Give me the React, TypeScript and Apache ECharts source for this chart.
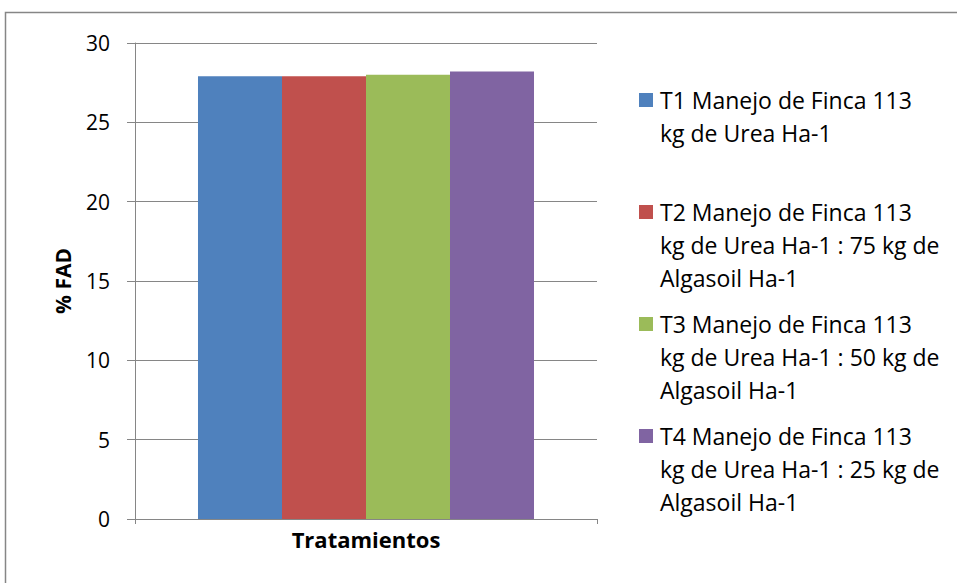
import React, { useEffect, useRef } from "react";
import * as echarts from "echarts";

const categories = [""];
const seriesNames = [
  "T1 Manejo de Finca 113\nkg de Urea Ha-1",
  "T2 Manejo de Finca 113\nkg de Urea Ha-1 : 75 kg de\nAlgasoil Ha-1",
  "T3 Manejo de Finca 113\nkg de Urea Ha-1 : 50 kg de\nAlgasoil Ha-1",
  "T4 Manejo de Finca 113\nkg de Urea Ha-1 : 25 kg de\nAlgasoil Ha-1",
];
const seriesValues = [27.9, 27.9, 28.0, 28.2];
const colors = ["#4F81BD", "#C0504D", "#9BBB59", "#8064A2"];
const yTicks = [0, 5, 10, 15, 20, 25, 30];

const FONT = "'Open Sans'";
const GRAY = "#868686";

export default function App() {
  const ref = useRef<HTMLDivElement>(null);
  useEffect(() => {
    if (!ref.current) return;
    const chart = echarts.init(ref.current, null, { renderer: "svg" });
    const legendGraphics: any[] = [];
    seriesNames.forEach((name, i) => {
      const cy = 100 + 112 * i;
      legendGraphics.push({
        type: "rect",
        shape: { x: 639, y: cy - 7, width: 14, height: 14 },
        style: { fill: colors[i] },
      });
      legendGraphics.push({
        type: "text",
        x: 660,
        y: cy - 16.5,
        style: {
          text: name,
          font: `23px ${FONT}`,
          fill: "#000",
          lineHeight: 33,
          verticalAlign: "top",
          align: "left",
        },
      });
    });
    chart.setOption({
      animation: false,
      textStyle: { fontFamily: FONT },
      grid: { left: 135, top: 43, width: 462, height: 476, containLabel: false },
      xAxis: {
        type: "category",
        data: categories,
        name: "Tratamientos",
        nameLocation: "middle",
        nameGap: 9,
        nameTextStyle: { fontFamily: FONT, fontSize: 22, fontWeight: "bold", color: "#000" },
        axisLine: { show: true, lineStyle: { color: GRAY, width: 1 } },
        axisTick: { show: true, length: 5, lineStyle: { color: GRAY } },
        axisLabel: { show: false },
      },
      yAxis: {
        type: "value",
        min: yTicks[0],
        max: yTicks[yTicks.length - 1],
        interval: 5,
        name: "% FAD",
        nameLocation: "middle",
        nameRotate: 90,
        nameGap: 62,
        nameTextStyle: { fontFamily: FONT, fontSize: 21, fontWeight: "bold", color: "#000" },
        axisLine: { show: true, lineStyle: { color: GRAY, width: 1 } },
        axisTick: { show: true, length: 8, lineStyle: { color: GRAY } },
        axisLabel: { margin: 25, fontFamily: FONT, fontSize: 21, color: "#000" },
        splitLine: { show: true, lineStyle: { color: GRAY, width: 1 } },
      },
      series: seriesNames.map((name, i) => ({
        type: "bar",
        name,
        data: [seriesValues[i]],
        itemStyle: { color: colors[i] },
        barGap: "0%",
        barCategoryGap: "27.27%",
      })),
      graphic: [
        {
          type: "rect",
          shape: { x: 5.5, y: 12.5, width: 1200, height: 1200 },
          style: { fill: "none", stroke: GRAY, lineWidth: 1.5 },
          silent: true,
          z: -1,
        },
        ...legendGraphics,
      ],
    });
    return () => chart.dispose();
  }, []);
  return (
    <div
      ref={ref}
      style={{ position: "fixed", left: 0, top: 0, width: 957, height: 583, background: "#fff" }}
    />
  );
}
